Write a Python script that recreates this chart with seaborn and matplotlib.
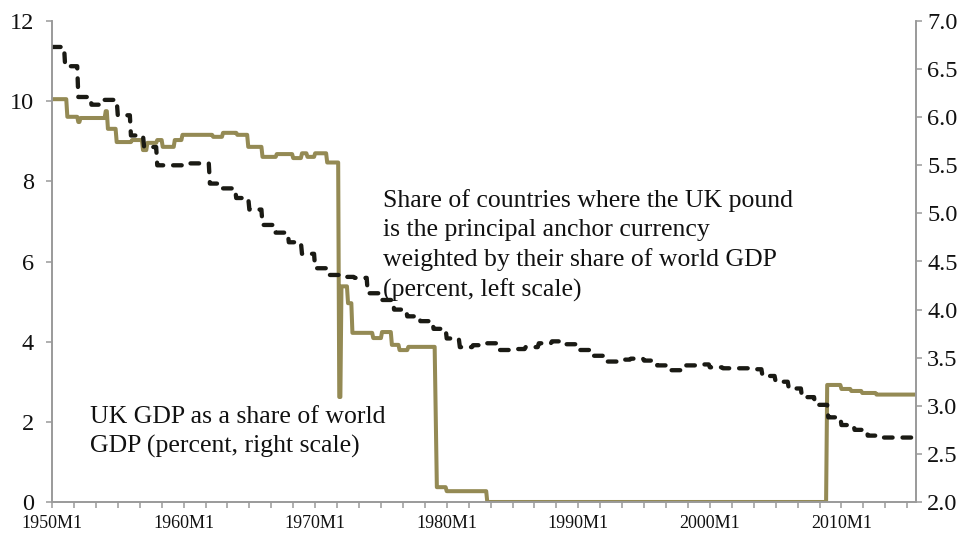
import numpy as np
import pandas as pd
import matplotlib
matplotlib.use("Agg")
import matplotlib.pyplot as plt
import seaborn as sns

# UK GDP as a share of world GDP, annual values 1950-2015, percent (right axis)
years = list(range(1950, 2016))
uk_gdp_share = [6.73, 6.53, 6.21, 6.13, 6.18, 6.02, 5.81, 5.69, 5.50, 5.50,
                5.52, 5.52, 5.31, 5.26, 5.16, 5.04, 4.88, 4.80, 4.70, 4.58,
                4.43, 4.36, 4.34, 4.33, 4.17, 4.10, 4.00, 3.93, 3.88, 3.80,
                3.70, 3.61, 3.63, 3.65, 3.58, 3.59, 3.61, 3.65, 3.67, 3.64,
                3.58, 3.52, 3.46, 3.48, 3.49, 3.47, 3.42, 3.37, 3.42, 3.43,
                3.40, 3.39, 3.39, 3.38, 3.31, 3.25, 3.18, 3.09, 3.01, 2.88,
                2.80, 2.75, 2.69, 2.67, 2.67, 2.67]

# GDP-weighted share of sterling-anchored countries, percent (left axis):
# month at which each level starts, and the level held from then on
anchor_start = ["1950-01", "1951-03", "1952-01", "1952-03", "1954-02", "1954-04",
                "1954-12", "1956-02", "1956-12", "1957-04", "1958-01", "1958-06",
                "1959-05", "1959-12", "1962-04", "1963-01", "1964-02", "1964-12",
                "1966-01", "1967-02", "1968-05", "1969-01", "1969-06", "1970-01",
                "1970-12", "1971-11", "1972-01", "1972-07", "1972-11", "1974-06",
                "1975-02", "1975-11", "1976-06", "1977-02", "1979-03", "1979-04",
                "1980-01", "1983-02", "2008-12", "2010-01", "2010-10", "2011-08",
                "2012-09"]
anchor_share = [10.05, 9.61, 9.48, 9.58, 9.75, 9.31,
                8.98, 9.03, 8.78, 8.96, 9.03, 8.86,
                9.03, 9.16, 9.11, 9.21, 9.16, 8.86,
                8.61, 8.68, 8.58, 8.70, 8.61, 8.70,
                8.47, 2.62, 5.38, 4.96, 4.22, 4.09,
                4.24, 3.92, 3.79, 3.87, 2.10, 0.37,
                0.27, 0.00, 2.92, 2.82, 2.77, 2.72,
                2.68]

last_month = "2015-09"

OLIVE = "#948A54"
GRAY = "#9a9a9a"


def month_number(stamp):
    y, m = stamp.split("-")
    return (int(y) - 1950) * 12 + int(m) - 1


months = np.arange(0, month_number(last_month) + 1)
starts = np.array([month_number(s) for s in anchor_start])
seg = np.searchsorted(starts, months, side="right") - 1

anchor_df = pd.DataFrame({"month": months, "share": np.array(anchor_share)[seg]})
gdp_df = pd.DataFrame({"month": months,
                       "share": np.array(uk_gdp_share)[months // 12]})

sns.set_theme(style="ticks")
plt.rcParams["font.family"] = ["Liberation Serif", "DejaVu Serif"]

fig = plt.figure(figsize=(9.7, 5.35), dpi=100)
ax = fig.add_axes([52 / 970, 33 / 535, 864 / 970, 481 / 535])
ax2 = ax.twinx()

sns.lineplot(data=anchor_df, x="month", y="share", ax=ax, color=OLIVE,
             linewidth=2.9, estimator=None)
sns.lineplot(data=gdp_df, x="month", y="share", ax=ax2, color="#1a1a14",
             linewidth=3.1, estimator=None)
dash_line = ax2.lines[0]
dash_line.set_dashes([2.0, 2.3])
dash_line.set_dash_capstyle("round")

ax.set_xlim(0, months[-1])
ax.set_ylim(0, 12)
ax2.set_ylim(2, 7)

ax.set_yticks(range(0, 13, 2))
ax.set_yticklabels([str(v) for v in range(0, 13, 2)])
right_ticks = np.arange(2.0, 7.01, 0.5)
ax2.set_yticks(right_ticks)
ax2.set_yticklabels([f"{v:.1f}" for v in right_ticks])

xt = np.arange(0, months[-1] + 1, 20)
ax.set_xticks(xt)
ax.set_xticklabels([f"{1950 + m // 12}M1" if m % 120 == 0 else "" for m in xt])

ax.set_xlabel("")
ax.set_ylabel("")
ax2.set_ylabel("")

for a in (ax, ax2):
    a.spines["top"].set_visible(False)
    for side in ("left", "right", "bottom"):
        a.spines[side].set_color(GRAY)
        a.spines[side].set_linewidth(1.2)
    a.grid(False)

ax.tick_params(axis="y", direction="out", length=4, width=1.1, color=GRAY,
               labelsize=17.5, pad=9, labelcolor="#111111")
ax2.tick_params(axis="y", direction="out", length=4, width=1.1, color=GRAY,
                labelsize=17.5, pad=4, labelcolor="#111111")
ax.tick_params(axis="x", direction="out", length=4, width=1.1, color=GRAY,
               labelsize=13, pad=5, labelcolor="#111111")

# va="baseline" anchors the last line's baseline of a multi-line text
ax.text(0.3831, 0.4262,
        "Share of countries where the UK pound\n"
        "is the principal anchor currency\n"
        "weighted by their share of world GDP\n"
        "(percent, left scale)",
        transform=ax.transAxes, ha="left", va="baseline", fontsize=18.5,
        color="#111111", linespacing=1.42)
ax.text(0.044, 0.1019,
        "UK GDP as a share of world\n"
        "GDP (percent, right scale)",
        transform=ax.transAxes, ha="left", va="baseline", fontsize=18.5,
        color="#111111", linespacing=1.42)

fig.savefig("out.png", dpi=100)
